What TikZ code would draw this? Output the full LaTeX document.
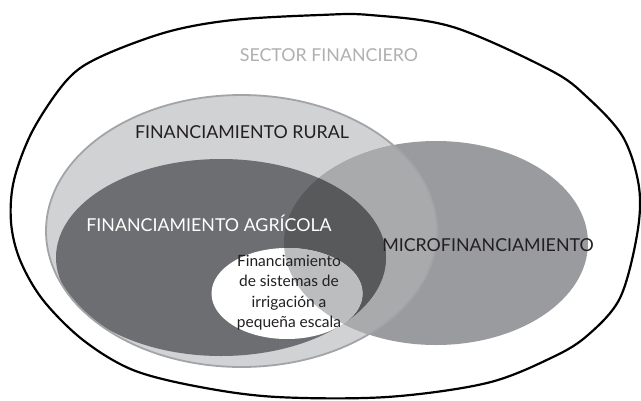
\documentclass[tikz,border=0pt]{standalone}
\usepackage{fontspec}
\setmainfont{Lato}
\definecolor{rurc}{HTML}{D1D2D4}
\definecolor{rurb}{HTML}{A3A4A7}
\definecolor{micc}{HTML}{9A9B9E}
\definecolor{rmc}{HTML}{A9AAAC}
\definecolor{agrc}{HTML}{6D6E71}
\definecolor{amc}{HTML}{58595B}
\definecolor{wmc}{HTML}{BCBDBF}
\definecolor{txt}{HTML}{231F20}
\definecolor{sectc}{HTML}{B0B0B0}
\tikzset{
  rur/.style={insert path={(241.5,231) ellipse [x radius=195.5pt, y radius=136pt]}},
  mic/.style={insert path={(436,243) ellipse [x radius=152pt, y radius=102pt]}},
  agr/.style={insert path={(221,257.5) ellipse [x radius=165pt, y radius=98.5pt]}},
  wht/.style={insert path={(287,293.5) ellipse [x radius=75.5pt, y radius=45.5pt]}},
  caps/.style={font=\fontsize{17.8}{20}\selectfont, inner sep=0pt},
  small/.style={font=\fontsize{15.5}{20.5}\selectfont, inner sep=0pt, align=center, text=txt}
}
\begin{document}
\begin{tikzpicture}[x=1pt,y=-1pt]
\useasboundingbox (0,0) rectangle (641,400);
% outer sector
\draw[line width=2.2pt, fill=white] plot[smooth cycle, tension=0.55] coordinates {
(320,15) (370,15) (453,27) (550,70) (587,97) (623,137) (639,187) (637,235)
(620,298) (588,335) (553,357) (487,383) (387,397) (277,397) (200,387)
(133,370) (83,340) (43,300) (20,260) (11,222) (14,180) (33,130) (67,80)
(100,57) (167,32) (233,20)};
% rural
\fill[rurc, rur];
% micro
\fill[micc, mic];
\begin{scope}
  \clip[rur];
  \fill[rmc, mic];
\end{scope}
% agricola
\fill[agrc, agr];
\begin{scope}
  \clip[agr];
  \fill[amc, mic];
\end{scope}
% small-scale irrigation
\fill[white, wht];
\begin{scope}
  \clip[wht];
  \fill[wmc, mic];
\end{scope}
% rural border
\draw[rurb, line width=1.8pt, rur];
% texts
\node[caps, text=sectc] (sect) at (329,55) {SECTOR FINANCIERO};
\node[caps, text=txt] (rural) at (242,132) {FINANCIAMIENTO RURAL};
\node[caps, text=white] (agri) at (209,223) {FINANCIAMIENTO AGRÍCOLA};
\node[caps, text=txt] (micro) at (488,245) {MICROFINANCIAMIENTO};
\node[small] (irr) at (289,292.5) {Financiamiento\\de sistemas de\\irrigación a\\pequeña escala};
\end{tikzpicture}
\end{document}
